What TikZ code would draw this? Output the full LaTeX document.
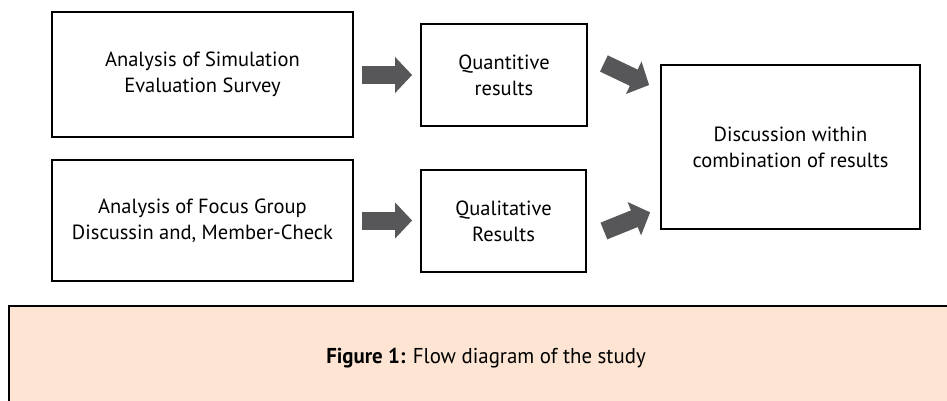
\documentclass[tikz,border=0pt]{standalone}
\usepackage{fontspec}
\setmainfont{PT Sans}
\usetikzlibrary{arrows.meta,calc}
\definecolor{arrowgray}{RGB}{87,87,89}
\definecolor{captionfill}{RGB}{253,228,211}
\begin{document}
\begin{tikzpicture}[x=1pt,y=-1pt,
  box/.style={draw=black,line width=1.8pt,align=center,inner sep=0pt,
    font=\fontsize{20.5}{26}\selectfont},
  fatarrow/.style={draw=arrowgray,line width=18pt,
    -{Triangle[length=17pt,width=35pt]}}]
  \useasboundingbox (0,0) rectangle (947,400);
  % caption panel, open at the right and bottom edges
  \begin{scope}
    \clip (0,0) rectangle (947,400);
    \filldraw[fill=captionfill,draw=black,line width=2.2pt] (9,410) -- (9,306) -- (960,306) -- (960,410) -- cycle;
  \end{scope}
  \node (cap) at (486,358) {\scalebox{0.97}[1]{\fontsize{21.5}{24}\selectfont\textbf{Figure 1:} Flow diagram of the study}};

  % boxes
  \node[box,minimum width=301,minimum height=125] (sim) at (202.5,74.5)
    {Analysis of Simulation\\Evaluation Survey};
  \node[box,minimum width=301,minimum height=121] (focus) at (202.5,220.5)
    {Analysis of Focus Group\\Discussin and, Member-Check};
  \node[box,minimum width=166,minimum height=102] (quant) at (504,75)
    {Quantitive\\results};
  \node[box,minimum width=165,minimum height=102] (qual) at (503.5,221)
    {Qualitative\\Results};
  \node[box,minimum width=259,minimum height=164] (disc) at (790.5,147)
    {Discussion within\\combination of results};

  % arrow end points
  \coordinate (a1s) at ($(sim.east)+(8,0.5)$);
  \coordinate (a1e) at ($(quant.west)+(-8,0)$);
  \coordinate (a2s) at ($(focus.east)+(8,0)$);
  \coordinate (a2e) at ($(qual.west)+(-8,-0.5)$);
  \coordinate (a3s) at ($(quant.east)+(16,-11.5)$);
  \coordinate (a3e) at ($(disc.west)+(-11,-62)$);
  \coordinate (a4s) at ($(qual.east)+(17,10)$);
  \coordinate (a4e) at ($(disc.west)+(-10,65.3)$);

  % thick block arrows
  \draw[fatarrow] (a1s) -- (a1e);
  \draw[fatarrow] (a2s) -- (a2e);
  \draw[fatarrow] (a3s) -- (a3e);
  \draw[fatarrow] (a4s) -- (a4e);
\end{tikzpicture}
\end{document}
